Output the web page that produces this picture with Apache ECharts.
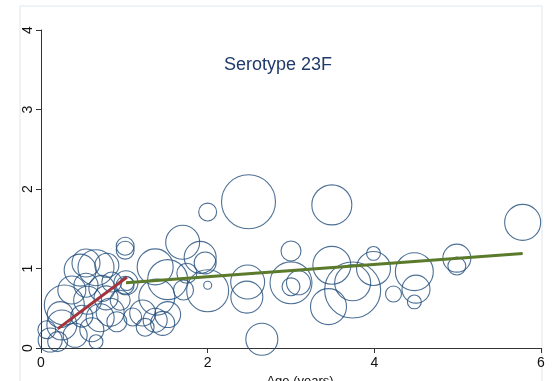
<!DOCTYPE html>
<html>
<head>
  <meta charset="utf-8">
  <title>Serotype 23F</title>
  <style>
    html, body, #chart { margin: 0; padding: 0; width: 553px; height: 381px; background: #fff; }
  </style>
</head>
<body>
  <div id="chart"></div>
  <script src="https://cdn.jsdelivr.net/npm/echarts@6/dist/echarts.min.js"></script>
  <script>
    // bubbles: age (years), value, weight (bubble area)
    var ages = [0.11, 0.20, 0.07, 0.25, 0.28, 0.47, 0.54, 0.66, 0.79, 0.56,
                0.41, 0.61, 0.71, 0.78, 0.85, 0.83, 0.95, 0.66, 0.37, 0.54,
                1.02, 1.03, 1.01, 1.01, 1.01, 0.91, 0.49, 0.23, 0.73,
                1.37, 1.39, 1.52, 1.22, 1.10, 1.25, 1.37, 1.46, 1.52,
                1.70, 1.91, 1.97, 1.75, 1.71, 2.00, 2.00, 2.48, 2.47, 2.00, 2.49, 2.65,
                3.00, 3.00, 3.00, 3.09, 3.49, 3.49, 3.74, 3.45, 3.74,
                3.99, 3.99, 4.23, 4.48, 4.50, 4.48, 4.99, 4.99, 5.78];
    var values = [0.10, 0.08, 0.23, 0.29, 0.54, 0.98, 1.07, 1.01, 1.04, 0.60,
                  0.16, 0.23, 0.38, 0.63, 0.83, 0.45, 0.60, 0.08, 0.73, 0.79,
                  0.82, 0.81, 0.79, 1.23, 1.28, 0.33, 0.40, 0.42, 0.75,
                  1.02, 0.64, 0.86, 0.44, 0.39, 0.26, 0.35, 0.31, 0.42,
                  1.33, 1.14, 1.07, 0.94, 0.73, 0.79, 0.72, 0.83, 0.64, 1.71, 1.84, 0.11,
                  1.22, 0.82, 0.77, 0.82, 1.80, 1.04, 0.73, 0.52, 0.82,
                  1.19, 1.00, 0.68, 0.96, 0.74, 0.58, 1.13, 1.03, 1.58];
    var weights = [36, 25, 20, 56, 100, 64, 49, 81, 36, 49,
                   36, 36, 49, 36, 25, 49, 25, 12, 49, 36,
                   36, 12, 20, 20, 20, 25, 30, 42, 42,
                   81, 81, 100, 42, 20, 20, 36, 36, 42,
                   72, 64, 30, 25, 25, 4, 110, 72, 64, 20, 182, 64,
                   25, 110, 20, 36, 100, 90, 196, 81, 81,
                   12, 72, 16, 90, 49, 12, 49, 20, 81];

    // fitted lines
    var fitYoungAges = [0.20, 1.03];
    var fitYoungValues = [0.24, 0.89];
    var fitOlderAges = [1.02, 5.78];
    var fitOlderValues = [0.82, 1.19];

    var xTicks = [0, 2, 4, 6];
    var yTicks = [0, 1, 2, 3, 4];

    var bubbles = ages.map(function (a, i) { return [a, values[i], weights[i]]; });
    function pairs(xs, ys) { return xs.map(function (x, i) { return [x, ys[i]]; }); }

    var font = 'Liberation Sans, Arial, sans-serif';
    var chart = echarts.init(document.getElementById('chart'));
    chart.setOption({
      animation: false,
      backgroundColor: '#fff',
      title: {
        text: 'Serotype 23F',
        left: 219,
        top: 51,
        textStyle: { color: '#1f3a6b', fontSize: 18, fontWeight: 'normal', fontFamily: font }
      },
      graphic: [{
        type: 'rect',
        shape: { x: 20, y: 6, width: 522, height: 400 },
        style: { fill: 'none', stroke: '#dfe7ee', lineWidth: 1 },
        z: -10
      }],
      grid: { left: 41, right: 12, top: 30, bottom: 33, outerBoundsMode: 'none', containLabel: false },
      xAxis: {
        type: 'value',
        min: xTicks[0],
        max: xTicks[xTicks.length - 1],
        interval: 2,
        name: 'Age (years)',
        nameLocation: 'middle',
        nameGap: 22,
        nameTextStyle: { color: '#111', fontSize: 13, fontFamily: font, padding: [0, 0, 0, 18] },
        splitLine: { show: false },
        axisLine: { lineStyle: { color: '#333', width: 1 } },
        axisTick: { length: 5, lineStyle: { color: '#333' } },
        axisLabel: { color: '#111', fontSize: 14, fontFamily: font, margin: 8 }
      },
      yAxis: {
        type: 'value',
        min: yTicks[0],
        max: yTicks[yTicks.length - 1],
        interval: 1,
        splitLine: { show: false },
        axisLine: { show: true, lineStyle: { color: '#333', width: 1 } },
        axisTick: { show: true, length: 5, lineStyle: { color: '#333' } },
        axisLabel: { color: '#111', fontSize: 14, fontFamily: font, rotate: 90, margin: 6 }
      },
      series: [{
        type: 'scatter',
        data: bubbles,
        symbolSize: function (v) { return Math.sqrt(v[2]) * 4; },
        itemStyle: { color: 'rgba(0,0,0,0)', borderColor: '#214c7a', borderWidth: 1.1 },
        silent: true,
        z: 2
      }, {
        type: 'line',
        data: pairs(fitYoungAges, fitYoungValues),
        symbol: 'none',
        lineStyle: { color: '#a3343c', width: 3 },
        silent: true,
        z: 3
      }, {
        type: 'line',
        data: pairs(fitOlderAges, fitOlderValues),
        symbol: 'none',
        lineStyle: { color: '#5b7a2b', width: 3 },
        silent: true,
        z: 3
      }]
    });
  </script>
</body>
</html>
